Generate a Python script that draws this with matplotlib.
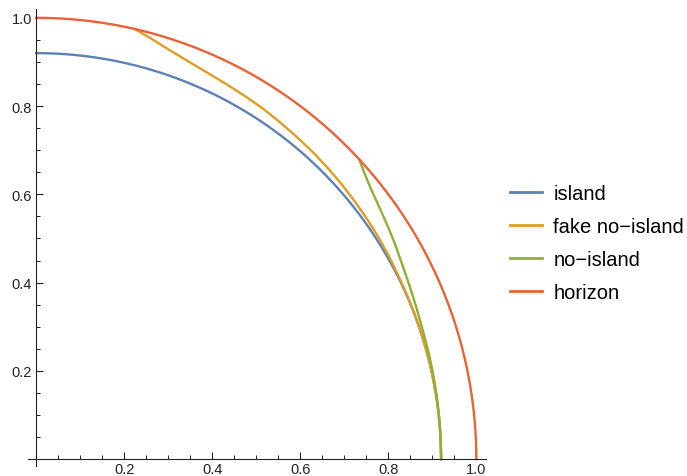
import matplotlib.pyplot as plt
import numpy as np

plt.rcParams['font.family'] = ['Liberation Sans', 'DejaVu Sans']

# radii
ISLAND_RADIUS = 0.92
HORIZON_RADIUS = 1.0

# fake no-island curve as (angle in degrees, radius)
FAKE_ANGLE = [77.1, 75, 72, 69, 66, 63, 60, 57, 54, 51, 48, 45, 42, 39, 36, 33,
              30, 27, 24, 21, 18, 15, 12, 9, 6, 3, 0]
FAKE_RADIUS = [1.0, 0.9895, 0.9755, 0.965, 0.958, 0.953, 0.9495, 0.9465, 0.943, 0.940,
               0.9375, 0.935, 0.9325, 0.930, 0.928, 0.926, 0.924, 0.922, 0.921, 0.9205,
               0.920, 0.920, 0.920, 0.920, 0.920, 0.920, 0.920]

# no-island curve, same form
NOISL_ANGLE = [42.8, 41, 39, 37, 35, 33, 31, 29, 27, 25, 23, 21, 19, 17, 15, 13,
               11, 9, 7, 5, 3, 0]
NOISL_RADIUS = [1.0, 0.988, 0.977, 0.969, 0.962, 0.956, 0.950, 0.944, 0.939, 0.935,
                0.9315, 0.9285, 0.926, 0.9245, 0.9235, 0.9225, 0.9218, 0.9212,
                0.9207, 0.9203, 0.920, 0.920]

LABELS = ['island', 'fake no\u2212island', 'no\u2212island', 'horizon']
COLORS = ['#5E81B5', '#E19C24', '#8FB032', '#EB6235']

MAJOR_TICKS = [0.2, 0.4, 0.6, 0.8, 1.0]
MINOR_TICKS = [0.05, 0.1, 0.15, 0.25, 0.3, 0.35, 0.45, 0.5, 0.55,
               0.65, 0.7, 0.75, 0.85, 0.9, 0.95]


def polar_xy(angle_deg, radius):
    a = np.radians(np.asarray(angle_deg, dtype=float))
    r = np.asarray(radius, dtype=float)
    return r * np.cos(a), r * np.sin(a)


fig = plt.figure(figsize=(6.87, 4.77), dpi=100)
ax = fig.add_axes([28 / 687, 10.3 / 477, 458 / 687, 456.7 / 477])

theta = np.linspace(0, 90, 300)
lw = 1.7
lines = []
lines += ax.plot(*polar_xy(theta, np.full_like(theta, ISLAND_RADIUS)), color=COLORS[0], lw=lw)
lines += ax.plot(*polar_xy(FAKE_ANGLE, FAKE_RADIUS), color=COLORS[1], lw=lw)
lines += ax.plot(*polar_xy(NOISL_ANGLE, NOISL_RADIUS), color=COLORS[2], lw=lw)
lines += ax.plot(*polar_xy(theta, np.full_like(theta, HORIZON_RADIUS)), color=COLORS[3], lw=lw)

ax.set_xlim(-0.019, 1.022)
ax.set_ylim(-0.015, 1.020)

for side in ['top', 'right']:
    ax.spines[side].set_visible(False)
for side in ['left', 'bottom']:
    ax.spines[side].set_position(('data', 0))
    ax.spines[side].set_linewidth(0.8)
    ax.spines[side].set_color('#222222')

ax.set_xticks(MAJOR_TICKS)
ax.set_yticks(MAJOR_TICKS)
ax.set_xticks(MINOR_TICKS, minor=True)
ax.set_yticks(MINOR_TICKS, minor=True)
ax.set_xticklabels([f'{t:.1f}' for t in MAJOR_TICKS])
ax.set_yticklabels([f'{t:.1f}' for t in MAJOR_TICKS])
ax.tick_params(which='major', direction='in', length=5, width=0.8, color='#222222',
               labelsize=10.5, labelcolor='#222222')
ax.tick_params(which='minor', direction='in', length=3, width=0.7, color='#222222')
ax.tick_params(axis='x', which='major', pad=2)
ax.tick_params(axis='y', which='major', pad=3)

leg = fig.legend(lines, LABELS, loc='center left', bbox_to_anchor=(510 / 687, 233 / 477),
                 frameon=False, fontsize=14.5, handlelength=1.6, handletextpad=0.55,
                 labelspacing=0.69, borderpad=0, borderaxespad=0)
for h in leg.legend_handles:
    h.set_linewidth(2.0)

fig.savefig('out.png', dpi=100)
